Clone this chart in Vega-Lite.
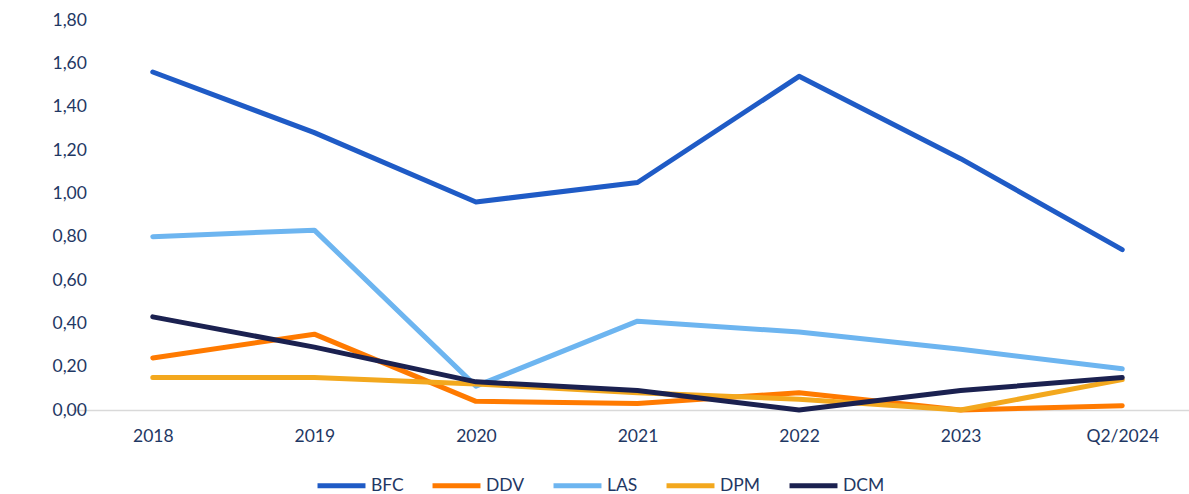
{
  "$schema": "https://vega.github.io/schema/vega-lite/v6.json",
  "width": 1117,
  "height": 390,
  "autosize": "none",
  "padding": {"left": 72, "top": 20, "right": 0, "bottom": 84},
  "background": "white",
  "config": {"view": {"stroke": null}, "font": "Lato"},
  "data": {"values": [
    {"period": "2018", "series": "BFC", "value": 1.56},
    {"period": "2019", "series": "BFC", "value": 1.28},
    {"period": "2020", "series": "BFC", "value": 0.96},
    {"period": "2021", "series": "BFC", "value": 1.05},
    {"period": "2022", "series": "BFC", "value": 1.54},
    {"period": "2023", "series": "BFC", "value": 1.16},
    {"period": "Q2/2024", "series": "BFC", "value": 0.74},
    {"period": "2018", "series": "DDV", "value": 0.24},
    {"period": "2019", "series": "DDV", "value": 0.35},
    {"period": "2020", "series": "DDV", "value": 0.04},
    {"period": "2021", "series": "DDV", "value": 0.03},
    {"period": "2022", "series": "DDV", "value": 0.08},
    {"period": "2023", "series": "DDV", "value": 0.0},
    {"period": "Q2/2024", "series": "DDV", "value": 0.02},
    {"period": "2018", "series": "LAS", "value": 0.80},
    {"period": "2019", "series": "LAS", "value": 0.83},
    {"period": "2020", "series": "LAS", "value": 0.11},
    {"period": "2021", "series": "LAS", "value": 0.41},
    {"period": "2022", "series": "LAS", "value": 0.36},
    {"period": "2023", "series": "LAS", "value": 0.28},
    {"period": "Q2/2024", "series": "LAS", "value": 0.19},
    {"period": "2018", "series": "DPM", "value": 0.15},
    {"period": "2019", "series": "DPM", "value": 0.15},
    {"period": "2020", "series": "DPM", "value": 0.12},
    {"period": "2021", "series": "DPM", "value": 0.08},
    {"period": "2022", "series": "DPM", "value": 0.05},
    {"period": "2023", "series": "DPM", "value": 0.0},
    {"period": "Q2/2024", "series": "DPM", "value": 0.14},
    {"period": "2018", "series": "DCM", "value": 0.43},
    {"period": "2019", "series": "DCM", "value": 0.29},
    {"period": "2020", "series": "DCM", "value": 0.13},
    {"period": "2021", "series": "DCM", "value": 0.09},
    {"period": "2022", "series": "DCM", "value": 0.0},
    {"period": "2023", "series": "DCM", "value": 0.09},
    {"period": "Q2/2024", "series": "DCM", "value": 0.15}
  ]},
  "mark": {"type": "line", "strokeWidth": 5, "strokeCap": "round", "strokeJoin": "round"},
  "encoding": {
    "x": {
      "field": "period", "type": "ordinal",
      "scale": {"type": "point", "range": [0, 1131], "paddingOuter": 0.5},
      "axis": {
        "title": null, "labelAngle": 0, "ticks": false,
        "domainColor": "#d9d9d9", "domainWidth": 1.5,
        "labelColor": "#1f3864", "labelFontSize": 17.5, "labelPadding": 17,
        "labelFont": "Lato"
      }
    },
    "y": {
      "field": "value", "type": "quantitative",
      "scale": {"domain": [0, 1.8], "nice": false, "zero": true},
      "axis": {
        "title": null, "values": [0, 0.2, 0.4, 0.6, 0.8, 1.0, 1.2, 1.4, 1.6, 1.8],
        "grid": false, "domain": false, "ticks": false,
        "labelExpr": "replace(format(datum.value, '.2f'), '.', ',')",
        "labelColor": "#1f3864", "labelFontSize": 17.5, "labelPadding": 20,
        "labelAlign": "left", "labelFont": "Lato"
      }
    },
    "color": {
      "field": "series", "type": "nominal",
      "sort": ["BFC", "DDV", "LAS", "DPM", "DCM"],
      "scale": {
        "domain": ["BFC", "DDV", "LAS", "DPM", "DCM"],
        "range": ["#1F5BC6", "#FF7A00", "#6DB5F0", "#F3A81E", "#1B2150"]
      },
      "legend": {
        "title": null, "orient": "none", "direction": "horizontal",
        "legendX": 243, "legendY": 439,
        "symbolType": "stroke", "symbolSize": 2300, "symbolStrokeWidth": 5,
        "labelColor": "#1f3864", "labelFontSize": 17.5, "labelFont": "Lato",
        "columnPadding": 18, "labelOffset": 3
      }
    }
  }
}
